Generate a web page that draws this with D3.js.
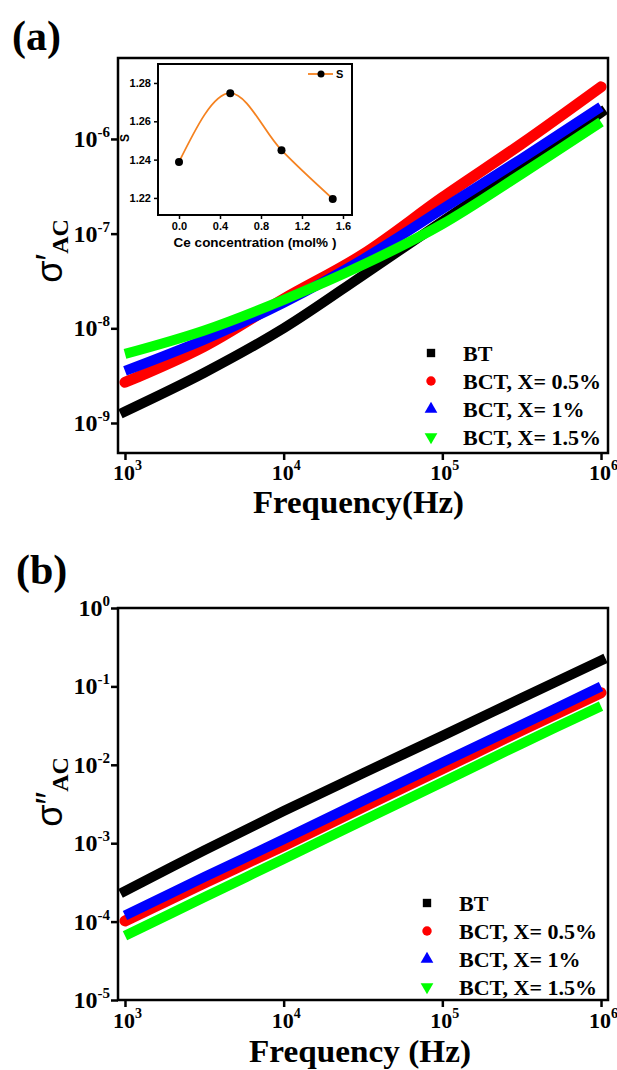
<!DOCTYPE html>
<html>
<head>
<meta charset="utf-8">
<script src="https://cdn.jsdelivr.net/npm/d3@7"></script>
<style>
  body { margin: 0; background: #fff; }
</style>
</head>
<body>
<div id="chart"></div>
<script>
// frequency points (Hz), every half decade
var freq = [1e3, 3.16e3, 1e4, 3.16e4, 1e5, 3.16e5, 1e6];

var seriesNames = ["BT", "BCT, X= 0.5%", "BCT, X= 1%", "BCT, X= 1.5%"];
var seriesColors = ["#000000", "#ff0000", "#0000ff", "#00ff00"];

// (a) real part of ac conductivity
var realBT  = [1.32e-9, 3.39e-9, 1.0e-8, 3.63e-8, 1.35e-7, 5.0e-7, 1.9e-6];
var realX05 = [2.69e-9, 6.46e-9, 2.04e-8, 6.03e-8, 2.4e-7, 8.9e-7, 3.55e-6];
var realX1  = [3.55e-9, 7.6e-9, 1.86e-8, 5.37e-8, 1.82e-7, 6.2e-7, 2.19e-6];
var realX15 = [5.37e-9, 9.5e-9, 2.0e-8, 4.68e-8, 1.26e-7, 4.27e-7, 1.51e-6];

// (b) imaginary part
var imagBT  = [2.45e-4, 8.1e-4, 2.57e-3, 7.8e-3, 2.34e-2, 7.1e-2, 0.214];
var imagX05 = [1.02e-4, 3.1e-4, 9.3e-4, 2.9e-3, 8.9e-3, 2.75e-2, 8.3e-2];
var imagX1  = [1.2e-4, 3.7e-4, 1.12e-3, 3.47e-3, 1.07e-2, 3.24e-2, 0.1];
var imagX15 = [6.6e-5, 2.04e-4, 6.3e-4, 1.95e-3, 6.0e-3, 1.86e-2, 5.6e-2];

// inset: exponent s vs Ce concentration
var ceConc = [0, 0.5, 1.0, 1.5];
var sValues = [1.2388, 1.2747, 1.2449, 1.2195];

var xTicks = [1e3, 1e4, 1e5, 1e6];
var topYTicks = [1e-9, 1e-8, 1e-7, 1e-6];
var bottomYTicks = [1e-5, 1e-4, 1e-3, 1e-2, 1e-1, 1e0];
var insetXTicks = [0, 0.4, 0.8, 1.2, 1.6];
var insetYTicks = [1.22, 1.24, 1.26, 1.28];

var serif = "'Liberation Serif', 'Times New Roman', serif";
var sans = "'Liberation Sans', Arial, sans-serif";

var svg = d3.select("#chart").append("svg")
  .attr("width", 617)
  .attr("height", 1070);

function powLabel(sel, v, sup) {
  var e = Math.round(Math.log10(v));
  sel.append("tspan").text("10");
  sel.append("tspan").attr("dy", -10).attr("font-size", sup).text(e);
}

function drawPanel(cfg) {
  var x = d3.scaleLog().domain(cfg.xDomain).range([118, 608]);
  var y = d3.scaleLog().domain(cfg.yDomain).range([cfg.bottom, cfg.top]);
  var g = svg.append("g");

  // data bands (dense markers in the original, drawn as thick strokes)
  var line = d3.line()
    .x(function (d) { return x(d[0]); })
    .y(function (d) { return y(d[1]); })
    .curve(d3.curveCatmullRom.alpha(0.5));
  var caps = ["square", "round", "butt", "butt"];
  cfg.series.forEach(function (vals, i) {
    var pts = freq.map(function (f, j) { return [f, vals[j]]; });
    g.append("path")
      .attr("d", line(pts))
      .attr("fill", "none")
      .attr("stroke", seriesColors[i])
      .attr("stroke-width", i == 1 ? 11 : 10)
      .attr("stroke-linecap", caps[i]);
  });

  // frame
  g.append("rect")
    .attr("x", 118).attr("y", cfg.top)
    .attr("width", 490).attr("height", cfg.bottom - cfg.top)
    .attr("fill", "none").attr("stroke", "#000").attr("stroke-width", 2.5);

  // axes
  var xa = g.append("g").attr("transform", "translate(0," + cfg.bottom + ")")
    .call(d3.axisBottom(x).tickValues(xTicks).tickSize(7).tickFormat(""));
  var ya = g.append("g").attr("transform", "translate(118,0)")
    .call(d3.axisLeft(y).tickValues(cfg.yTicks).tickSize(7).tickFormat(""));
  [xa, ya].forEach(function (a) {
    a.select(".domain").remove();
    a.selectAll("line").attr("stroke", "#000").attr("stroke-width", 2.5);
  });

  xTicks.forEach(function (v) {
    g.append("text")
      .attr("x", x(v) - 12).attr("y", cfg.bottom + cfg.tickGap)
      .attr("font-family", serif).attr("font-weight", "bold").attr("font-size", 22)
      .call(powLabel, v, 14);
  });
  cfg.yTicks.forEach(function (v) {
    g.append("text")
      .attr("x", 110).attr("y", y(v) + 8)
      .attr("text-anchor", "end")
      .attr("font-family", serif).attr("font-weight", "bold").attr("font-size", 24)
      .call(powLabel, v, 15);
  });

  // x title
  g.append("text")
    .attr("x", cfg.xTitleX).attr("y", cfg.xTitleY)
    .attr("font-family", serif).attr("font-weight", "bold").attr("font-size", 32)
    .attr("textLength", cfg.xTitleW).attr("lengthAdjust", "spacingAndGlyphs")
    .text(cfg.xTitle);

  // y title
  var yt = g.append("text")
    .attr("transform", "translate(62," + cfg.yTitleY + ") rotate(-90)")
    .attr("text-anchor", "middle");
  yt.append("tspan").attr("font-family", sans).attr("font-size", 36).text(cfg.sigma);
  yt.append("tspan").attr("dy", 6).attr("font-family", serif).attr("font-weight", "bold")
    .attr("font-size", 24).text("AC");

  // panel label
  g.append("text")
    .attr("x", cfg.labelX).attr("y", cfg.labelY)
    .attr("font-family", serif).attr("font-weight", "bold").attr("font-size", 42)
    .text(cfg.label);

  // legend
  var shapes = [d3.symbolSquare, d3.symbolCircle, d3.symbolTriangle, d3.symbolTriangle];
  seriesNames.forEach(function (name, i) {
    var cy = cfg.legendY + i * cfg.legendStep;
    g.append("path")
      .attr("d", d3.symbol().type(shapes[i]).size(70)())
      .attr("transform", "translate(" + cfg.legendX + "," + cy + ")" + (i == 3 ? " rotate(180)" : ""))
      .attr("fill", seriesColors[i]);
    g.append("text")
      .attr("x", cfg.legendX + 32).attr("y", cy + 8)
      .attr("font-family", serif).attr("font-weight", "bold").attr("font-size", 22)
      .text(name);
  });
}

drawPanel({
  top: 58, bottom: 453, tickGap: 27,
  xDomain: [Math.pow(10, 2.956), Math.pow(10, 6.044)],
  yDomain: [Math.pow(10, -9.317), Math.pow(10, -5.145)],
  yTicks: topYTicks,
  series: [realBT, realX05, realX1, realX15],
  xTitle: "Frequency(Hz)", xTitleX: 253, xTitleY: 513, xTitleW: 211,
  sigma: "σ′", yTitleY: 251,
  label: "(a)", labelX: 12, labelY: 50,
  legendX: 431, legendY: 353, legendStep: 28
});

drawPanel({
  top: 608, bottom: 1000, tickGap: 28,
  xDomain: [Math.pow(10, 2.956), Math.pow(10, 6.044)],
  yDomain: [1e-5, 1],
  yTicks: bottomYTicks,
  series: [imagBT, imagX05, imagX1, imagX15],
  xTitle: "Frequency (Hz)", xTitleX: 249, xTitleY: 1062, xTitleW: 222,
  sigma: "σ″", yTitleY: 792,
  label: "(b)", labelX: 16, labelY: 584,
  legendX: 427, legendY: 903, legendStep: 28
});

// inset
var ix = d3.scaleLinear().domain([-0.205, 1.688]).range([158, 352]);
var iy = d3.scaleLinear().domain([1.2111, 1.2899]).range([215, 64]);
var inset = svg.append("g");

inset.append("rect")
  .attr("x", 158).attr("y", 64).attr("width", 194).attr("height", 151)
  .attr("fill", "#fff").attr("stroke", "#000").attr("stroke-width", 2);

var ixa = inset.append("g").attr("transform", "translate(0,215)")
  .call(d3.axisBottom(ix).tickValues(insetXTicks).tickSize(4).tickFormat(d3.format(".1f")));
var iya = inset.append("g").attr("transform", "translate(158,0)")
  .call(d3.axisLeft(iy).tickValues(insetYTicks).tickSize(4).tickFormat(d3.format(".2f")));
[ixa, iya].forEach(function (a) {
  a.select(".domain").remove();
  a.selectAll("line").attr("stroke", "#000").attr("stroke-width", 1.5);
  a.selectAll("text").attr("font-family", sans).attr("font-weight", "bold")
    .attr("font-size", 11).attr("fill", "#000");
});

inset.append("text")
  .attr("x", 255).attr("y", 247)
  .attr("text-anchor", "middle")
  .attr("font-family", sans).attr("font-weight", "bold").attr("font-size", 13.5)
  .text("Ce concentration (mol% )");

inset.append("text")
  .attr("transform", "translate(129,138) rotate(-90)")
  .attr("text-anchor", "middle")
  .attr("font-family", sans).attr("font-weight", "bold").attr("font-size", 12)
  .text("S");

var sLine = d3.line()
  .x(function (d, i) { return ix(ceConc[i]); })
  .y(function (d) { return iy(d); })
  .curve(d3.curveMonotoneX);
inset.append("path")
  .attr("d", sLine(sValues))
  .attr("fill", "none").attr("stroke", "#f58220").attr("stroke-width", 1.8);
inset.selectAll("circle.pt")
  .data(sValues)
  .enter()
  .append("circle")
  .attr("cx", function (d, i) { return ix(ceConc[i]); })
  .attr("cy", function (d) { return iy(d); })
  .attr("r", 4).attr("fill", "#000");

// inset legend
inset.append("line")
  .attr("x1", 308).attr("x2", 333).attr("y1", 74).attr("y2", 74)
  .attr("stroke", "#f58220").attr("stroke-width", 1.8);
inset.append("circle").attr("cx", 321).attr("cy", 74).attr("r", 3.5).attr("fill", "#000");
inset.append("text")
  .attr("x", 336).attr("y", 78)
  .attr("font-family", sans).attr("font-weight", "bold").attr("font-size", 11)
  .text("S");
</script>
</body>
</html>
